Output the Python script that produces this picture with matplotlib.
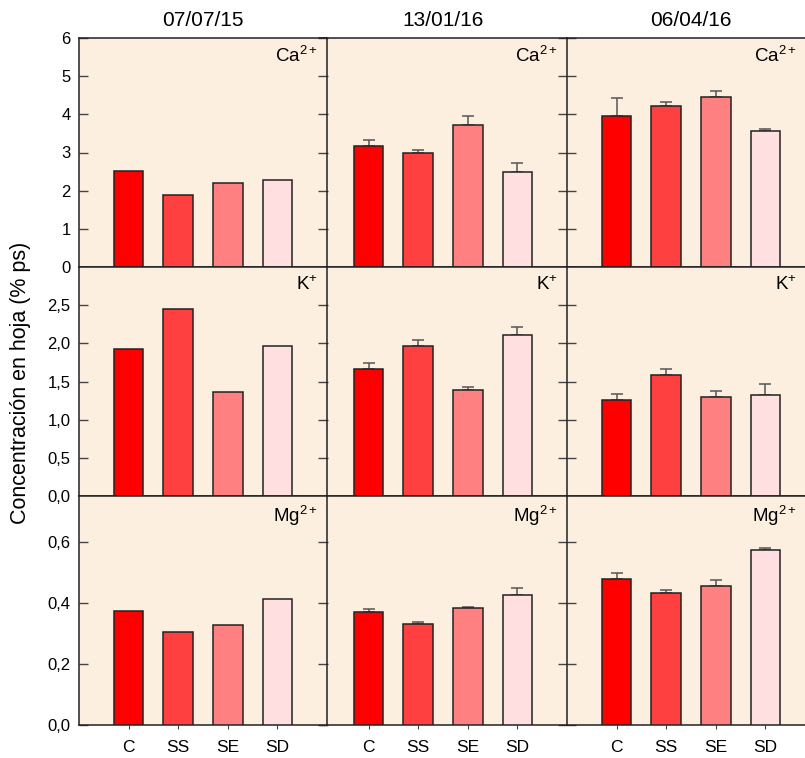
import numpy as np
import matplotlib.pyplot as plt

plt.rcParams['font.family'] = ['Liberation Sans', 'DejaVu Sans']
plt.rcParams['mathtext.fontset'] = 'custom'
plt.rcParams['mathtext.rm'] = 'Liberation Sans'
plt.rcParams['mathtext.it'] = 'Liberation Sans'

treatments = ["C", "SS", "SE", "SD"]
dates = ["07/07/15", "13/01/16", "06/04/16"]
ions = ["Ca$^{2+}$", "K$^{+}$", "Mg$^{2+}$"]
bar_colors = ["#FF0000", "#FF4040", "#FF8080", "#FFDFE0"]

# mean values, one row per date (C, SS, SE, SD)
ca = [[2.52, 1.88, 2.21, 2.28],
      [3.18, 2.98, 3.73, 2.49],
      [3.96, 4.22, 4.45, 3.56]]
ca_err = [[0, 0, 0, 0],
          [0.14, 0.08, 0.23, 0.24],
          [0.47, 0.11, 0.16, 0.06]]
k = [[1.92, 2.45, 1.36, 1.97],
     [1.67, 1.96, 1.39, 2.11],
     [1.26, 1.58, 1.30, 1.32]]
k_err = [[0, 0, 0, 0],
         [0.07, 0.09, 0.04, 0.11],
         [0.07, 0.09, 0.07, 0.15]]
mg = [[0.372, 0.306, 0.329, 0.414],
      [0.370, 0.330, 0.383, 0.425],
      [0.479, 0.433, 0.456, 0.572]]
mg_err = [[0, 0, 0, 0],
          [0.009, 0.008, 0.003, 0.025],
          [0.019, 0.010, 0.019, 0.008]]

values = [ca, k, mg]
errors = [ca_err, k_err, mg_err]
ylims = [(0, 6), (0, 3), (0, 0.75)]
yticks = [np.arange(0, 7, 1), np.arange(0, 3.0, 0.5), np.arange(0, 0.7, 0.2)]

W, H = 805, 758
fig = plt.figure(figsize=(W / 100, H / 100), dpi=100)
fig.patch.set_facecolor('white')

col_left = [79, 319, 567]
col_w = 248
row_top = [38, 267, 496]
row_h = 229
bg = "#FDEFE0"
x = np.arange(1, 5)
label_x = [0.964, 0.964, 0.927]

for r in range(3):
    for c in range(3):
        ax = fig.add_axes([col_left[c] / W, (H - row_top[r] - row_h) / H,
                           col_w / W, row_h / H])
        ax.set_zorder(3 - c)
        ax.set_facecolor(bg)
        vals = values[r][c]
        errs = errors[r][c]
        ax.bar(x, vals, width=0.6, color=bar_colors, edgecolor="#222222",
               linewidth=1.1, zorder=3)
        if any(e > 0 for e in errs):
            ax.errorbar(x, vals, yerr=[np.zeros(4), errs], fmt='none',
                        ecolor="#555555", elinewidth=1.1, capsize=4,
                        capthick=1.1, zorder=2)
        ax.set_xlim(0, 5)
        ax.set_ylim(*ylims[r])
        ax.set_yticks(yticks[r])
        ax.tick_params(axis='y', direction='in', length=6.5, width=1,
                       color="#444444", left=True, right=True,
                       labelsize=12, pad=6)
        if c == 0:
            if r == 0:
                ax.set_yticklabels([str(int(t)) for t in yticks[r]])
            else:
                ax.set_yticklabels([f"{t:.1f}".replace('.', ',') for t in yticks[r]])
        else:
            ax.set_yticklabels([])
            ax.spines['left'].set_visible(False)
        if r == 2:
            ax.set_xticks(x)
            ax.set_xticklabels(treatments, fontsize=12.5)
            ax.tick_params(axis='x', direction='out', length=3, color="#444444",
                           pad=8)
        else:
            ax.set_xticks([])
        for s in ax.spines.values():
            s.set_linewidth(1.1)
            s.set_color("#222222")
        ax.text(label_x[c], 0.965, ions[r], transform=ax.transAxes, ha='right',
                va='top', fontsize=13.5)
        if r == 0:
            ax.set_title(dates[c], fontsize=15, pad=9)

fig.text(21 / W, 1 - 383 / H, "Concentración en hoja (% ps)", rotation=90,
         ha='center', va='center', fontsize=15.5)

fig.savefig("out.png", dpi=100)
